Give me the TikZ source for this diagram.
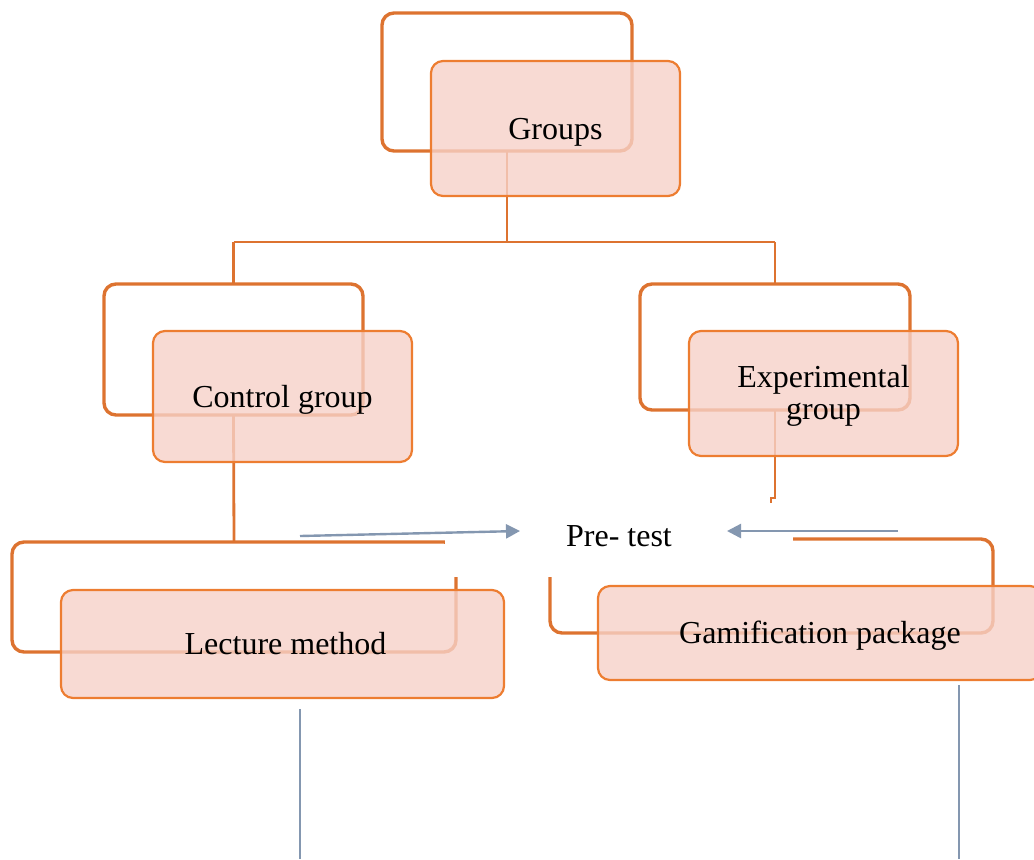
\documentclass[tikz,border=0pt]{standalone}
\usepackage{fontspec}
\setmainfont{Liberation Serif}
\usetikzlibrary{arrows.meta}

\definecolor{outline}{RGB}{221,115,48}
\definecolor{frame}{RGB}{237,125,49}
\definecolor{boxfill}{RGB}{246,209,200}
\definecolor{steel}{RGB}{132,151,176}

\tikzset{
  backbox/.style={draw=outline, line width=1.7pt, rounded corners=6pt,
    inner sep=0pt, outer sep=0pt},
  frontbox/.style={draw=frame, line width=1.1pt, rounded corners=6pt,
    fill=boxfill, fill opacity=0.8, text opacity=1, inner sep=0pt,
    outer sep=0pt, align=center, font=\fontsize{16}{16}\selectfont,
    text height=12pt, text depth=1.5pt},
  link/.style={draw=outline, line width=1.4pt},
  flow/.style={draw=steel, line width=1.2pt},
  flowarrow/.style={flow, -{Triangle[length=7pt,width=7pt]}},
}

\begin{document}
\begin{tikzpicture}[x=0.5pt, y=-0.5pt]
  \clip (0,0) rectangle (1034,859);

  % outline frames behind each box
  \node[backbox, minimum width=125pt,   minimum height=69pt] (gb) at (507,82) {};
  \node[backbox, minimum width=129.5pt, minimum height=65.5pt] (cb) at (233.5,349.5) {};
  \node[backbox, minimum width=135pt,   minimum height=63pt] (eb) at (775,347) {};
  \node[backbox, minimum width=222pt,   minimum height=55pt] (lb) at (234,597) {};
  \node[backbox, minimum width=221.5pt, minimum height=47pt] (pb) at (771.5,586) {};

  % tree connectors
  \draw[link] (gb.south) -- ++(0,91) coordinate (split);
  \draw[link] (split -| cb.north) -- (split -| eb.north);
  \draw[link] (split -| cb.north) -- (cb.north);
  \draw[link] (split -| eb.north) -- (eb.north);
  \draw[link] (cb.south) -- (lb.north);
  \draw[link] (eb.south) -- ++(0,88) -- ++(-4,0) -- ++(0,8);

  % filled boxes
  \node[frontbox, minimum width=124.5pt, minimum height=67.5pt] (gf) at (555.5,128.5) {Groups};
  \node[frontbox, minimum width=129.5pt, minimum height=65.5pt] (cf) at (282.5,396.5) {Control group};
  \node[frontbox, minimum width=134.5pt, minimum height=62.5pt,
        text height=28pt, text depth=2.5pt] (ef) at (823.5,393.5) {Experimental\\group};
  \node[frontbox, minimum width=221.5pt, minimum height=54pt] (lf) at (282.5,644) {\hspace*{3pt}Lecture method};
  \node[frontbox, minimum width=222pt,   minimum height=47pt] (pf) at (820,633) {Gamification package};

  % pre-test label on a white panel
  \node[fill=white, inner sep=0pt, outer sep=0pt, minimum width=174pt,
        minimum height=37pt, text height=8pt, text depth=2pt,
        font=\fontsize{16}{17}\selectfont] (pt) at (619,540) {Pre- test};

  % arrows into the pre-test
  \coordinate (la0) at (300,536);
  \coordinate (la1) at (520,531);
  \coordinate (ra0) at (898,531);
  \coordinate (ra1) at (727,531);
  \draw[flowarrow] (la0) -- (la1);
  \draw[flowarrow] (ra0) -- (ra1);

  % lines running down from the treatments
  \coordinate (ld0) at (300,709);
  \coordinate (ld1) at (300,859);
  \coordinate (rd0) at (959,685);
  \coordinate (rd1) at (959,859);
  \draw[flow] (ld0) -- (ld1);
  \draw[flow] (rd0) -- (rd1);
\end{tikzpicture}
\end{document}
